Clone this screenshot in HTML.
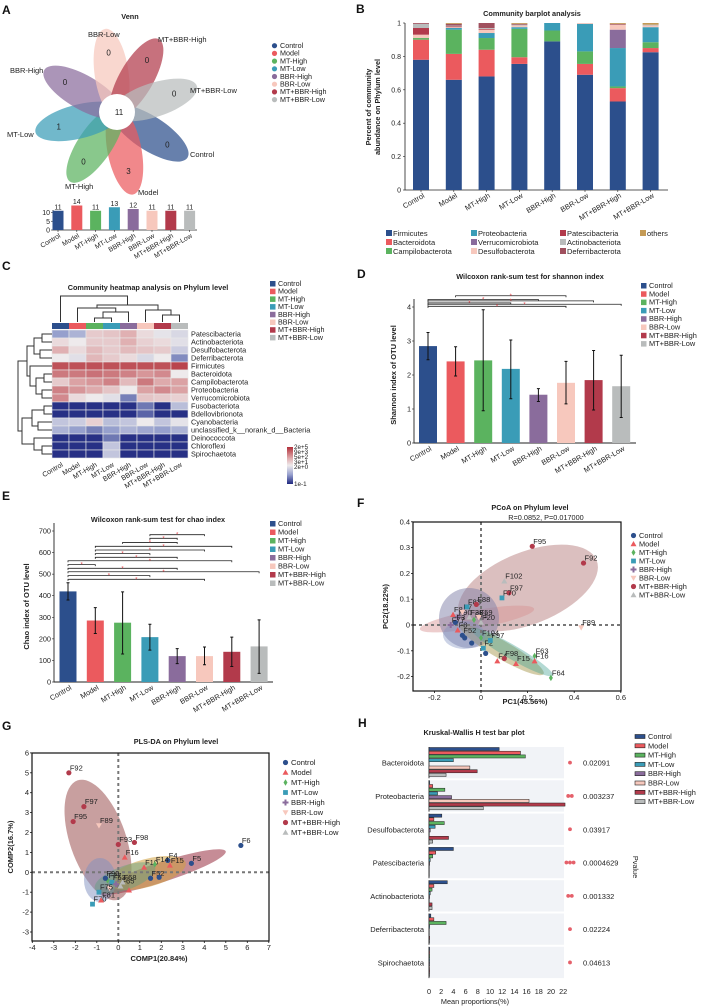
<!DOCTYPE html>
<html><head><meta charset="utf-8">
<style>
html,body{margin:0;padding:0;background:#fff;}
svg{display:block;font-family:"Liberation Sans",Arial,sans-serif;}
</style></head>
<body>
<svg id="fig" width="707" height="1008" viewBox="0 0 707 1008" xmlns="http://www.w3.org/2000/svg"></svg>
<script>
// ---------- shared data ----------
const groups = ['Control','Model','MT-High','MT-Low','BBR-High','BBR-Low','MT+BBR-High','MT+BBR-Low'];
const colors = ['#2c4f8c','#eb5a5e','#5bb35f','#3a9cb7','#8a6c9c','#f7c8bd','#b23a4b','#b9bcbc'];
// Venn
const vennUnique = [0,3,0,1,0,0,0,0];
const vennCore = 11;
const vennTotals = [11,14,11,13,12,11,11,11];
// Barplot B
const phyla = ['Firmicutes','Bacteroidota','Campilobacterota','Proteobacteria','Verrucomicrobiota','Desulfobacterota','Patescibacteria','Actinobacteriota','Deferribacterota','others'];
const phylaColors = ['#2c4f8c','#eb5a5e','#5bb35f','#3a9cb7','#8a6c9c','#f7c8bd','#b23a4b','#b9bcbc','#a0505e','#c49a55'];
const abundControl = [0.78,0.12,0.01,0.0,0.0,0.02,0.04,0.025,0.005];
const abundModel = [0.66,0.155,0.145,0.01,0.0,0.005,0.005,0.005,0.01];
const abundMTHigh = [0.68,0.16,0.07,0.03,0.0,0.02,0.005,0.005,0.03];
const abundMTLow = [0.755,0.04,0.17,0.01,0.0,0.01,0.0,0.005,0.005];
const abundBBRHigh = [0.89,0.0,0.065,0.045,0.0,0.0,0.0,0.0,0.0];
const abundBBRLow = [0.69,0.065,0.075,0.165,0.0,0.005,0.0,0.0,0.0];
const abundMTBBRHigh = [0.53,0.08,0.01,0.23,0.11,0.03,0.0,0.0,0.005];
const abundMTBBRLow = [0.825,0.025,0.035,0.09,0.0,0.01,0.0,0.005,0.0];
// Heatmap C
const heatRows = ['Patescibacteria','Actinobacteriota','Desulfobacterota','Deferribacterota','Firmicutes','Bacteroidota','Campilobacterota','Proteobacteria','Verrucomicrobiota','Fusobacteriota','Bdellovibrionota','Cyanobacteria','unclassified_k__norank_d__Bacteria','Deinococcota','Chloroflexi','Spirochaetota'];
const heatVals = [
[.3,.35,.6,.62,.68,.55,.48,.45],[.55,.5,.6,.6,.68,.58,.55,.47],[.68,.55,.65,.6,.65,.62,.6,.42],[.5,.47,.66,.6,.55,.45,.5,.25],
[.92,.92,.92,.92,.92,.92,.92,.95],[.82,.82,.84,.82,.8,.75,.78,.5],[.6,.72,.75,.8,.65,.82,.7,.72],[.8,.75,.7,.62,.5,.72,.78,.72],
[.78,.55,.5,.47,.22,.62,.6,.58],[.02,.02,.02,.02,.02,.2,.02,.38],[.02,.02,.02,.02,.02,.15,.02,.02],[.4,.42,.58,.38,.4,.5,.4,.48],
[.35,.3,.22,.3,.35,.32,.3,.35],[.02,.02,.02,.2,.02,.02,.02,.02],[.02,.02,.02,.4,.02,.02,.02,.02],[.02,.02,.02,.4,.02,.02,.02,.02]];
const heatScaleLabels = ['2e+5','9e+3','5e+2','3e+1','2e+0','1e-1'];
// Shannon D
const shannonMean = [2.85,2.4,2.43,2.18,1.42,1.77,1.85,1.67];
const shannonLow = [2.45,1.97,0.95,1.3,1.22,1.15,0.97,0.75];
const shannonHigh = [3.25,2.83,3.92,3.03,1.6,2.4,2.72,2.58];
const shannonTicks = [0,1,2,3,4];
const shannonBrackets = [[1,5,4.33],[0,4,4.22],[0,6,4.18],[0,3,4.12],[0,7,4.08],[0,5,4.02]];
// Chao E
const chaoMean = [420,285,275,208,120,120,140,165];
const chaoLow = [380,225,130,148,85,80,72,40];
const chaoHigh = [460,345,418,268,155,162,208,288];
const chaoTicks = [0,100,200,300,400,500,600,700];
const chaoBrackets = [[3,5,683],[3,4,666],[2,4,647],[1,6,629],[1,5,612],[1,3,595],[1,4,578],[0,6,562],[0,1,544],[0,4,527],[0,7,511],[0,3,493],[0,5,476]];
// PCoA F
const pcoaX = [0.22,0.44,0.10,0.12,0.09,0.43,0.23,0.23,0.30,0.15,0.07,0.10,0.0,0.01,0.02,-0.08,-0.07,-0.04,-0.12,-0.10,-0.08,-0.05,-0.03,-0.11,-0.06,-0.02,-0.13,-0.10,-0.01,0.0,0.04];
const pcoaY = [0.305,0.24,0.17,0.125,0.105,-0.01,-0.12,-0.14,-0.205,-0.15,-0.14,-0.13,-0.05,-0.09,-0.11,-0.04,-0.05,-0.07,0.04,0.03,0.05,0.03,0.02,0.01,0.07,0.08,0.0,-0.02,0.03,0.01,-0.06];
const pcoaG = [6,6,7,6,3,5,2,1,2,1,1,6,2,3,0,0,0,0,1,4,5,7,2,0,3,6,4,1,5,7,3];
const pcoaLab = ['F95','F92','F102','F97','F70','F89','F63','F16','F64','F15','F4','F98','F104','F2','','F52','','','F8','F90','F7','F38','F71','F3','F83','F88','F77','F8','F59','F20','F97'];
const pcoaXTicks = [-0.2,0,0.2,0.4,0.6];
const pcoaYTicks = [-0.2,-0.1,0,0.1,0.2,0.3,0.4];
// PLS-DA G
const plsX = [-2.3,-1.6,-2.1,-0.9,0.0,0.75,0.3,5.7,3.4,2.3,2.4,-1.2,1.5,1.9,-0.5,-0.3,-0.1,0.1,-0.6,-0.8,-0.4,0.2,1.2,1.7,-0.9,0.5];
const plsY = [5.0,3.3,2.55,2.35,1.4,1.5,0.75,1.35,0.45,0.6,0.35,-1.6,-0.3,-0.25,-0.4,-0.5,-0.6,-0.7,-0.3,-1.4,-0.8,-0.5,0.25,0.4,-1.0,-0.9];
const plsG = [6,6,6,5,6,6,1,0,0,0,1,3,0,0,2,3,4,7,0,1,5,7,1,2,3,1];
const plsLab = ['F92','F97','F95','F89','F93','F98','F16','F6','F5','F4','F15','F70','F52','','F27','F63','','F65','F90','F81','','F68','F10','F14','F75',''];
const plsXTicks = [-4,-3,-2,-1,0,1,2,3,4,5,6,7];
const plsYTicks = [-3,-2,-1,0,1,2,3,4,5,6];
// Kruskal H
const khPhyla = ['Bacteroidota','Proteobacteria','Desulfobacterota','Patescibacteria','Actinobacteriota','Deferribacterota','Spirochaetota'];
const khVals = [
[11.5,15,15.8,4,0,6.7,7.9,2.8],[0.1,0.6,2.6,1.4,3.7,16.4,22.3,8.9],[2.1,0.8,2.5,1.0,0.2,0.05,3.2,0.6],
[4.0,1.1,0.6,0.2,0.1,0.05,0.05,0.05],[3.0,0.8,0.5,0.2,0.1,0.05,0.5,0.5],[0.3,0.8,2.8,0.1,0.05,0.05,0.1,0.1],[0.1,0.1,0.1,0.1,0.1,0.1,0.1,0.1]];
const khP = ['0.02091','0.003237','0.03917','0.0004629','0.001332','0.02224','0.04613'];
const khStars = [1,2,1,3,2,1,1];
const khTicks = [0,2,4,6,8,10,12,14,16,18,20,22];

// ---------- helpers ----------
const NS='http://www.w3.org/2000/svg';
const svg=document.getElementById('fig');
function mk(tag,attrs,parent){const e=document.createElementNS(NS,tag);for(const k in attrs)e.setAttribute(k,attrs[k]);(parent||svg).appendChild(e);return e;}
function tx(x,y,s,size,attrs,parent){const a=Object.assign({x:x,y:y,'font-size':size,fill:'#222'},attrs||{});const e=mk('text',a,parent);e.textContent=s;return e;}
function grp(name){const g=mk('g',{});return g;}
function marker(shape,x,y,c,p){
  let e;
  if(shape==0||shape==6) e=mk('circle',{cx:x,cy:y,r:2.6,fill:c},p);
  else if(shape==1||shape==7) e=mk('polygon',{points:`${x},${y-3} ${x+3},${y+2.3} ${x-3},${y+2.3}`,fill:c},p);
  else if(shape==2) e=mk('polygon',{points:`${x},${y-3.2} ${x+2},${y} ${x},${y+3.2} ${x-2},${y}`,fill:c},p);
  else if(shape==3) e=mk('rect',{x:x-2.4,y:y-2.4,width:4.8,height:4.8,fill:c},p);
  else if(shape==4) e=mk('path',{d:`M${x-3} ${y}H${x+3}M${x} ${y-3}V${y+3}`,stroke:c,'stroke-width':2},p);
  else e=mk('polygon',{points:`${x-3},${y-2.3} ${x+3},${y-2.3} ${x},${y+3}`,fill:c},p);
  return e;
}
function legend(name,x,y,dy,kind,size,labels,cols){
  const g=grp(name);
  labels.forEach((l,i)=>{
    const yy=y+i*dy;
    let m;
    if(kind==='dot') m=mk('circle',{cx:x+2.5,cy:yy-2.3,r:2.6,fill:cols[i]},g);
    else if(kind==='sq') m=mk('rect',{x:x,y:yy-5,width:5.5,height:5.5,fill:cols[i]},g);
    else if(kind==='bar') m=mk('rect',{x:x,y:yy-4.5,width:10,height:4,fill:cols[i],stroke:'#222','stroke-width':0.6},g);
    else m=marker(i,x+2.5,yy-2.5,cols[i],g);
    
    
    const t=tx(x+(kind==='bar'?13:8),yy,l,size,{},g);
    
    
  });
}
function letter(x,y,s){const t=tx(x,y,s,12,{'font-weight':'bold',fill:'#111'});}
function title(x,y,s,name){const t=tx(x,y,s,7.3,{'font-weight':'bold','text-anchor':'middle'});}

// ---------- panel letters ----------
letter(2,14,'A');letter(356,13,'B');letter(2,270,'C');letter(357,278,'D');letter(2,500,'E');letter(357,507,'F');letter(2,730,'G');letter(358,727,'H');

// ---------- A: Venn ----------
(function(){
  const g=grp('venn-diagram');
  title(130,19,'Venn','venn-title');
  const cx=117,cy=112;
  const angles=[33,79,124,166,210,-98+360,-60+360,-18+360];
  const labPos=[[190,157],[138,195],[65,189],[7,137],[10,73],[88,37],[158,42],[190,93]];
  groups.forEach((gn,i)=>{
    const a=angles[i]*Math.PI/180;
    const ex=cx+39*Math.cos(a),ey=cy+39*Math.sin(a);
    const p=mk('ellipse',{cx:ex,cy:ey,rx:45,ry:17,fill:colors[i],'fill-opacity':0.72,transform:`rotate(${angles[i]} ${ex} ${ey})`},g);
    
    
    const n=tx(cx+60*Math.cos(a),cy+60*Math.sin(a)+3,String(vennUnique[i]),8,{'text-anchor':'middle'},g);
    
    
    const l=tx(labPos[i][0],labPos[i][1],gn,7.5,{},g);
    
    
  });
  const c=mk('circle',{cx:cx,cy:cy,r:18,fill:'#fff'},g);
  
  
  const ct=tx(cx+2,cy+3,String(vennCore),8,{'text-anchor':'middle'},g);
  
  
  legend('venn-legend',272,48,7.7,'dot',7.2,groups,colors);
  const bg=grp('venn-size-bars');
  const y0=230,k=1.75,x0=53;
  mk('path',{d:`M${x0} ${y0-20}V${y0}H197`,stroke:'#222','stroke-width':0.8,fill:'none'},bg);
  [0,5,10].forEach(v=>{mk('path',{d:`M${x0-2} ${y0-v*k}H${x0}`,stroke:'#222','stroke-width':0.6},bg);tx(x0-3,y0-v*k+2.5,String(v),7,{'text-anchor':'end'},bg);});
  vennTotals.forEach((v,i)=>{
    const xc=58+i*18.8;
    const r=mk('rect',{x:xc-5.5,y:y0-v*k,width:11,height:v*k,fill:colors[i]},bg);
    
    
    tx(xc,y0-v*k-1.5,String(v),7,{'text-anchor':'middle'},bg);
    mk('path',{d:`M${xc} ${y0}V${y0+2}`,stroke:'#222','stroke-width':0.6},bg);
    tx(xc+3,y0+7,groups[i],6.8,{'text-anchor':'end',transform:`rotate(-30 ${xc+3} ${y0+7})`},bg);
  });
})();

// ---------- B: stacked bars ----------
(function(){
  const g=grp('community-barplot');
  title(532,16,'Community barplot analysis','barplot-title');
  const X0=405,Y0=190,Y1=23;
  const ys=v=>Y0-(Y0-Y1)*v;
  const data=[abundControl,abundModel,abundMTHigh,abundMTLow,abundBBRHigh,abundBBRLow,abundMTBBRHigh,abundMTBBRLow];
  mk('path',{d:`M${X0} ${Y1}V${Y0}H668`,stroke:'#222','stroke-width':0.8,fill:'none'},g);
  [0,0.2,0.4,0.6,0.8,1].forEach(v=>{mk('path',{d:`M${X0-2} ${ys(v)}H${X0}`,stroke:'#222','stroke-width':0.6},g);tx(X0-4,ys(v)+2.5,String(v),7,{'text-anchor':'end'},g);});
  const yl=tx(0,0,'Percent of community',7.3,{'font-weight':'bold','text-anchor':'middle',transform:`translate(371 107) rotate(-90)`},g);
  
  tx(0,0,'abundance on Phylum level',7.3,{'font-weight':'bold','text-anchor':'middle',transform:`translate(380 107) rotate(-90)`},g);
  data.forEach((arr,i)=>{
    const xc=421+i*32.8;let acc=0;
    const vals=arr.slice();const s=vals.reduce((a,b)=>a+b,0);vals.push(Math.max(0,1-s));
    vals.forEach((v,j)=>{
      if(v<=0)return;
      const r=mk('rect',{x:xc-8,y:ys(acc+v),width:16,height:ys(acc)-ys(acc+v),fill:phylaColors[j]},g);
      
      
      acc+=v;
    });
    mk('path',{d:`M${xc} ${Y0}V${Y0+2}`,stroke:'#222','stroke-width':0.6},g);
    tx(xc+4,Y0+7,groups[i],7.3,{'text-anchor':'end',transform:`rotate(-30 ${xc+4} ${Y0+7})`},g);
  });
  const lg=grp('barplot-legend');
  const colsX=[386,471,560,640];
  phyla.forEach((p,j)=>{
    const col=j<3?0:j<6?1:j<9?2:3,row=j<9?j%3:0;
    const x=colsX[col],y=236+row*9;
    const r=mk('rect',{x:x,y:y-6,width:6,height:6,fill:phylaColors[j]},lg);
    
    const t=tx(x+7,y,p,7.5,{},lg);
    
  });
})();

// ---------- C: heatmap ----------
(function(){
  const g=grp('heatmap');
  title(148,290,'Community heatmap analysis on Phylum level','heatmap-title');
  const X0=52,cw=17,Y0=330,rh=8;
  function cmap(v){
    const st=[[0,[31,40,128]],[0.3,[150,160,205]],[0.5,[238,234,236]],[0.7,[222,170,172]],[1,[178,48,58]]];
    for(let i=1;i<st.length;i++){if(v<=st[i][0]){const t=(v-st[i-1][0])/(st[i][0]-st[i-1][0]);const a=st[i-1][1],b=st[i][1];return `rgb(${a.map((c,k)=>Math.round(c+(b[k]-c)*t)).join(',')})`;}}
    return 'rgb(178,48,58)';
  }
  groups.forEach((gn,i)=>{const r=mk('rect',{x:X0+i*cw,y:323,width:cw,height:6,fill:colors[i]},g);});
  heatVals.forEach((row,r)=>{
    row.forEach((v,c)=>{
      const e=mk('rect',{x:X0+c*cw,y:Y0+r*rh,width:cw,height:rh,fill:cmap(v),stroke:'#e8e8e8','stroke-width':0.6},g);
      
      
    });
    const t=tx(X0+8*cw+3,Y0+r*rh+6.5,heatRows[r],7.3,{},g);
    
  });
  groups.forEach((gn,i)=>{const xc=X0+i*cw+cw/2;tx(xc+3,Y0+16*rh+8,gn,7,{'text-anchor':'end',transform:`rotate(-30 ${xc+3} ${Y0+16*rh+8})`},g);});
  const dg=grp('column-dendrogram');
  const cxs=i=>X0+i*cw+cw/2;
  const seg=[[cxs(2),cxs(3),318,322,322],[103,cxs(4),312,318,322],[cxs(1),115.75,308,322,312],[cxs(6),cxs(7),315,322,322],[cxs(5),171,310,322,315],[97,158,305,308,310],[cxs(0),127.5,296,322,305]];
  seg.forEach(s=>mk('path',{d:`M${s[0]} ${s[3]}V${s[2]}H${s[1]}V${s[4]}`,stroke:'#333','stroke-width':1,fill:'none'},dg));
  const rg=grp('row-dendrogram');
  const tree=[34,[25,[18,[10,0,1],[12,2,3]],[22,4,[16,[8,5,6],[10,7,8]]]],[30,[20,[8,9,10],[14,11,12]],[18,13,[10,14,15]]]];
  function draw(n){
    if(typeof n==='number')return {y:Y0+n*rh+rh/2,x:X0};
    const a=draw(n[1]),b=draw(n[2]);const x=X0-n[0];
    mk('path',{d:`M${a.x} ${a.y}H${x}V${b.y}H${b.x}`,stroke:'#333','stroke-width':1,fill:'none'},rg);
    return {y:(a.y+b.y)/2,x:x};
  }
  draw(tree);
  legend('heatmap-legend',270,286,7.7,'sq',7.2,groups,colors);
  const gr=mk('linearGradient',{id:'hg',x1:0,y1:0,x2:0,y2:1},mk('defs',{}));
  [[0,'#b2303a'],[0.3,'#dfaaac'],[0.5,'#eeeaec'],[0.75,'#969fcd'],[1,'#1f2880']].forEach(s=>mk('stop',{offset:s[0],'stop-color':s[1]},gr));
  const sc=mk('rect',{x:287,y:447,width:6,height:37,fill:'url(#hg)'},g);
  
  heatScaleLabels.forEach((l,i)=>tx(294,i<5?449+i*5:486,l,6.3,{},g));
})();

// ---------- bar with error chart (D,E) ----------
function errBars(name,opt){
  const g=grp(name);
  const {X0,X1,Y0,Ytop,vmax,mean,lo,hi,ticks,br,cx0,dx,bw,ytitle,ytx,title:tt,tx0,ty}=opt;
  const y=v=>Y0-(Y0-Ytop)*v/vmax;
  const x=i=>cx0+i*dx;
  title(tx0,ty,tt,name+'-title');
  mk('path',{d:`M${X0} ${y(ticks[ticks.length-1])-8}V${Y0}H${X1}`,stroke:'#222','stroke-width':0.9,fill:'none'},g);
  ticks.forEach(v=>{mk('path',{d:`M${X0-2} ${y(v)}H${X0}`,stroke:'#222','stroke-width':0.6},g);tx(X0-3,y(v)+2.5,String(v),7.3,{'text-anchor':'end'},g);});
  const yl=tx(0,0,ytitle,7.5,{'font-weight':'bold','text-anchor':'middle',transform:`translate(${ytx} ${(Y0+Ytop)/2}) rotate(-90)`},g);
  
  mean.forEach((v,i)=>{
    const r=mk('rect',{x:x(i)-bw/2,y:y(v),width:bw,height:Y0-y(v),fill:colors[i]},g);
    
    
    const e=mk('path',{d:`M${x(i)} ${y(lo[i])}V${y(hi[i])}M${x(i)-1.5} ${y(lo[i])}H${x(i)+1.5}M${x(i)-1.5} ${y(hi[i])}H${x(i)+1.5}`,stroke:'#111','stroke-width':1},g);
    
    
    tx(x(i)+4,Y0+7,groups[i],7.3,{'text-anchor':'end',transform:`rotate(-30 ${x(i)+4} ${Y0+7})`},g);
  });
  br.forEach(b=>{
    const yy=y(b[2]);
    const l=mk('path',{d:`M${x(b[0])} ${yy+1.5}V${yy}H${x(b[1])}V${yy+1.5}`,stroke:'#222','stroke-width':0.8,fill:'none'},g);
    
    
    tx((x(b[0])+x(b[1]))/2,yy+2,'*',6,{'text-anchor':'middle',fill:'#e5494f'},g);
  });
}
errBars('shannon-chart',{X0:414,X1:636,Y0:443,Ytop:307,vmax:4,mean:shannonMean,lo:shannonLow,hi:shannonHigh,ticks:shannonTicks,br:shannonBrackets,cx0:428,dx:27.6,bw:18,ytitle:'Shannon index of OTU level',ytx:396,title:'Wilcoxon rank-sum test for shannon index',tx0:530,ty:279});
legend('shannon-legend',641,288,8.3,'sq',7.4,groups,colors);
errBars('chao-chart',{X0:54,X1:273,Y0:682,Ytop:531,vmax:700,mean:chaoMean,lo:chaoLow,hi:chaoHigh,ticks:chaoTicks,br:chaoBrackets,cx0:68,dx:27.3,bw:17,ytitle:'Chao index of OTU level',ytx:29,title:'Wilcoxon rank-sum test for chao index',tx0:158,ty:522});
legend('chao-legend',270,526,8.5,'sq',7.4,groups,colors);

// ---------- scatter (F,G) ----------
function scatter(name,o){
  const g=grp(name);
  const sx=v=>o.zx+v*o.kx, sy=v=>o.zy-v*o.ky;
  o.ell.forEach(e=>{const el=mk('ellipse',{cx:e[0],cy:e[1],rx:e[2],ry:e[3],fill:e[5],'fill-opacity':e[6],transform:`rotate(${e[4]} ${e[0]} ${e[1]})`},g);});
  mk('path',{d:`M${o.L} ${sy(0)}H${o.R}M${sx(0)} ${o.T}V${o.B}`,stroke:'#777','stroke-width':2,'stroke-dasharray':'3,3'},g);
  o.xs.forEach((v,i)=>{
    const m=marker(o.gs[i],sx(v),sy(o.ys[i]),colors[o.gs[i]],g);
    
    
    if(o.labs[i])tx(sx(v)+1,sy(o.ys[i])-2.5,o.labs[i],7.5,{fill:'#222'},g);
  });
  mk('rect',{x:o.L,y:o.T,width:o.R-o.L,height:o.B-o.T,fill:'none',stroke:'#111','stroke-width':1.2},g);
  o.xt.forEach(v=>{mk('path',{d:`M${sx(v)} ${o.B}V${o.B+2}`,stroke:'#111','stroke-width':0.8},g);tx(sx(v),o.B+9,String(v),7.5,{'text-anchor':'middle'},g);});
  o.yt.forEach(v=>{mk('path',{d:`M${o.L-2} ${sy(v)}H${o.L}`,stroke:'#111','stroke-width':0.8},g);tx(o.L-3,sy(v)+2.5,String(v),7.5,{'text-anchor':'end'},g);});
  const xl=tx(o.xlx,o.xly,o.xl,7.5,{'font-weight':'bold','text-anchor':'middle'},g);
  
  const yl=tx(0,0,o.yl,7.5,{'font-weight':'bold','text-anchor':'middle',transform:`translate(${o.ylx} ${(o.T+o.B)/2}) rotate(-90)`},g);
  
}
title(530,510,'PCoA on Phylum level','pcoa-title');
tx(546,520,'R=0.0852, P=0.017000',7.3,{'text-anchor':'middle'});
scatter('pcoa-chart',{zx:481,kx:233,zy:625,ky:258,L:413,R:621,T:522,B:691,xs:pcoaX,ys:pcoaY,gs:pcoaG,labs:pcoaLab,xt:pcoaXTicks,yt:pcoaYTicks,
  ell:[[528,588,74,36,-22,'#b07070',0.45],[477,619,58,9,-10,'#d89090',0.45],[469,618,30,30,0,'#7f7fa8',0.5],[502,650,48,9,30,'#a09040',0.45],[512,652,47,7,30,'#40a090',0.4],[464,635,21,14,0,'#8090c0',0.4]],
  xl:'PC1(45.56%)',xlx:525,xly:704,yl:'PC2(18.22%)',ylx:388});
legend('pcoa-legend',631,538,8.5,'mk',7.4,groups,colors);
title(176,744,'PLS-DA on Phylum level','plsda-title');
scatter('plsda-chart',{zx:118.3,kx:21.5,zy:872.3,ky:19.9,L:32,R:269,T:753,B:941,xs:plsX,ys:plsY,gs:plsG,labs:plsLab,xt:plsXTicks,yt:plsYTicks,
  ell:[[98,840,63,28,71,'#9a5050',0.55],[162,872,67,10,-18,'#a04050',0.6],[147,873,40,14,-15,'#d0a040',0.55],[100,880,16,22,0,'#8090c0',0.5],[125,878,32,12,-20,'#60a080',0.45]],
  xl:'COMP1(20.84%)',xlx:159,xly:961,yl:'COMP2(16.7%)',ylx:13});
legend('plsda-legend',283,765,10,'mk',7.6,groups,colors);

// ---------- H: Kruskal-Wallis ----------
(function(){
  const g=grp('kruskal-chart');
  title(474,735,'Kruskal-Wallis H test bar plot','kruskal-title');
  const X0=429,k=6.1,T=747,gh=33.3,bh=3.7;
  khPhyla.forEach((p,r)=>{
    const gy=T+r*gh;
    mk('rect',{x:X0,y:gy,width:135,height:gh-2,fill:'#f1f3f7'},g);
    mk('path',{d:`M${X0} ${gy}V${gy+gh-2}`,stroke:'#111','stroke-width':0.8},g);
    khVals[r].forEach((v,i)=>{
      if(v<=0)return;
      const b=mk('rect',{x:X0,y:gy+0.5+i*bh,width:v*k,height:bh-0.6,fill:colors[i],stroke:'#222','stroke-width':0.5},g);
      
      
    });
    const t=tx(X0-5,gy+gh/2+2,p,7.5,{'text-anchor':'end'},g);
    
    for(let s=0;s<khStars[r];s++)mk('circle',{cx:570-(khStars[r]-1)*1.8+s*3.6,cy:gy+gh/2-1,r:1.9,fill:'#e5606a'},g);
    const pv=tx(583,gy+gh/2+2,khP[r],7.5,{},g);
    
  });
  khTicks.forEach(v=>tx(X0+v*k,994,String(v),7.3,{'text-anchor':'middle'},g));
  const xl=tx(475,1004,'Mean proportions(%)',7.3,{'text-anchor':'middle'},g);
  
  tx(0,0,'Pvalue',7.3,{'text-anchor':'middle',transform:'translate(633 867) rotate(90)'},g);
  legend('kruskal-legend',635,739,9.3,'bar',7.4,groups,colors);
})();
</script>
</body></html>
